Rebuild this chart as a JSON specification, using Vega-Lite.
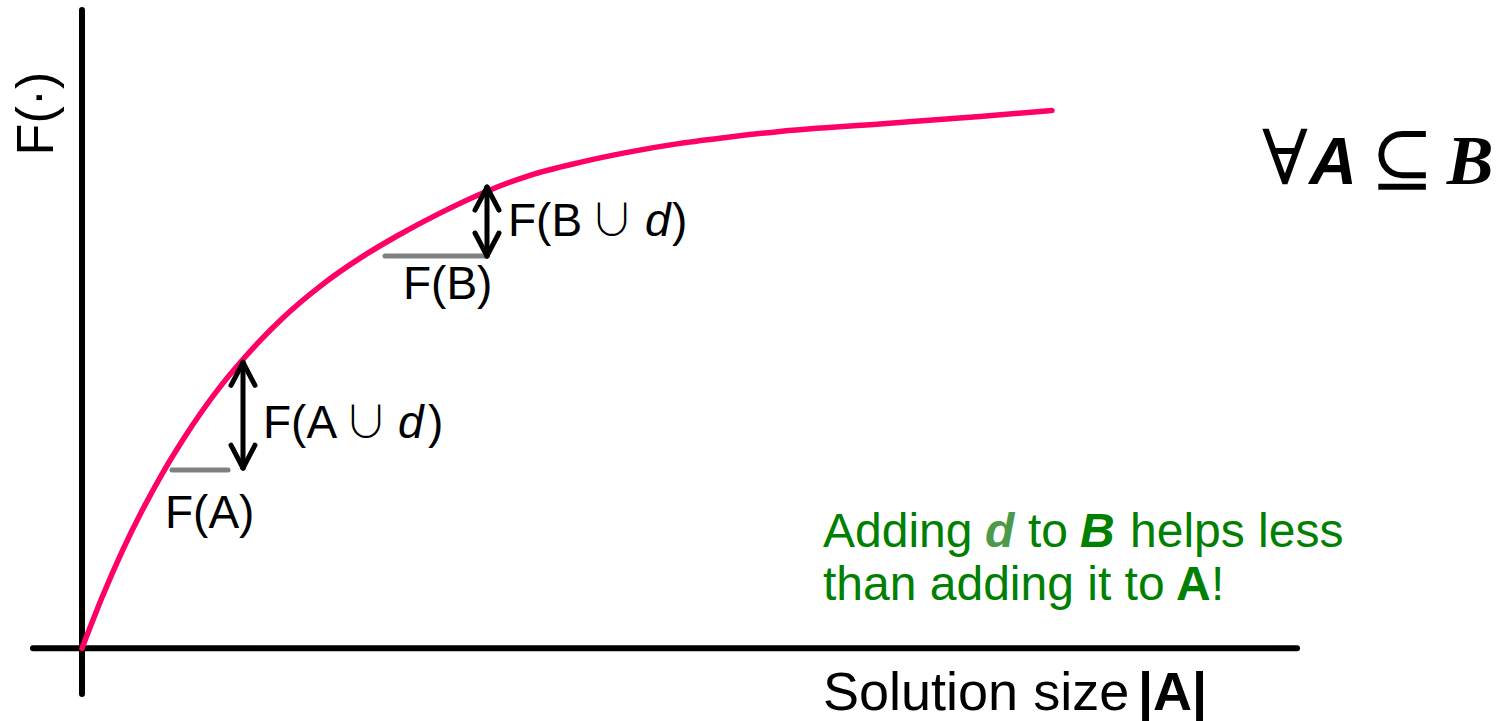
{
  "$schema": "https://vega.github.io/schema/vega-lite/v6.json",
  "width": 1506,
  "height": 721,
  "autosize": {"type": "fit", "contains": "padding"},
  "padding": 0,
  "background": "white",
  "config": {"view": {"stroke": null}},
  "datasets": {
    "curve": [
      {"size": 0, "f": 0},
      {"size": 0.20, "f": 0.51},
      {"size": 0.40, "f": 0.97},
      {"size": 0.60, "f": 1.38},
      {"size": 0.80, "f": 1.75},
      {"size": 1.00, "f": 2.08},
      {"size": 1.20, "f": 2.38},
      {"size": 1.40, "f": 2.65},
      {"size": 1.60, "f": 2.89},
      {"size": 1.80, "f": 3.11},
      {"size": 2.00, "f": 3.31},
      {"size": 2.40, "f": 3.65},
      {"size": 2.80, "f": 3.93},
      {"size": 3.15, "f": 4.14},
      {"size": 3.58, "f": 4.37},
      {"size": 4.05, "f": 4.59},
      {"size": 4.48, "f": 4.75},
      {"size": 4.98, "f": 4.88},
      {"size": 5.48, "f": 4.985},
      {"size": 5.98, "f": 5.07},
      {"size": 6.48, "f": 5.135},
      {"size": 6.98, "f": 5.19},
      {"size": 7.98, "f": 5.265},
      {"size": 8.98, "f": 5.34},
      {"size": 9.70, "f": 5.40}
    ],
    "segments": [
      {"kind": "axis", "x": 0, "y": 6.41, "x2": 0, "y2": -0.46},
      {"kind": "axis", "x": -0.49, "y": 0, "x2": 12.15, "y2": 0},
      {"kind": "bar", "x": 0.90, "y": 1.79, "x2": 1.46, "y2": 1.79},
      {"kind": "bar", "x": 3.03, "y": 3.94, "x2": 4.05, "y2": 3.94},
      {"kind": "arrow", "x": 1.61, "y": 2.87, "x2": 1.61, "y2": 1.81},
      {"kind": "arrow", "x": 1.61, "y": 2.87, "x2": 1.49, "y2": 2.64},
      {"kind": "arrow", "x": 1.61, "y": 2.87, "x2": 1.73, "y2": 2.64},
      {"kind": "arrow", "x": 1.61, "y": 1.81, "x2": 1.49, "y2": 2.04},
      {"kind": "arrow", "x": 1.61, "y": 1.81, "x2": 1.73, "y2": 2.04},
      {"kind": "arrow", "x": 4.05, "y": 4.63, "x2": 4.05, "y2": 3.94},
      {"kind": "arrow", "x": 4.05, "y": 4.63, "x2": 3.93, "y2": 4.40},
      {"kind": "arrow", "x": 4.05, "y": 4.63, "x2": 4.17, "y2": 4.40},
      {"kind": "arrow", "x": 4.05, "y": 3.94, "x2": 3.93, "y2": 4.17},
      {"kind": "arrow", "x": 4.05, "y": 3.94, "x2": 4.17, "y2": 4.17}
    ],
    "labels": [
      {"style": "reg", "x": 1.81, "y": 2.11, "text": "F(A"},
      {"style": "cup", "x": 2.84, "y": 2.11, "text": "∪"},
      {"style": "ital", "x": 3.16, "y": 2.11, "text": "d"},
      {"style": "reg", "x": 3.46, "y": 2.11, "text": ")"},
      {"style": "reg", "x": 4.26, "y": 4.14, "text": "F(B"},
      {"style": "cup", "x": 5.30, "y": 4.14, "text": "∪"},
      {"style": "ital", "x": 5.63, "y": 4.14, "text": "d"},
      {"style": "reg", "x": 5.90, "y": 4.14, "text": ")"},
      {"style": "reg", "x": 0.83, "y": 1.21, "text": "F(A)"},
      {"style": "reg", "x": 3.21, "y": 3.51, "text": "F(B)"},
      {"style": "axisreg", "x": 7.41, "y": -0.62, "text": "Solution size"},
      {"style": "axisbold", "x": 10.56, "y": -0.62, "text": "|A|"},
      {"style": "rot", "x": -0.29, "y": 5.37, "text": "F(·)"},
      {"style": "serif", "x": 12.03, "y": 4.66, "text": "∀"},
      {"style": "bisans", "x": 12.51, "y": 4.66, "text": "A"},
      {"style": "serif", "x": 13.20, "y": 4.66, "text": "⊆"},
      {"style": "biserif", "x": 13.88, "y": 4.66, "text": "B"},
      {"style": "green", "x": 7.41, "y": 1.02, "text": "Adding"},
      {"style": "greend", "x": 9.03, "y": 1.02, "text": "d"},
      {"style": "green", "x": 9.46, "y": 1.02, "text": "to"},
      {"style": "greenbi", "x": 9.98, "y": 1.02, "text": "B"},
      {"style": "green", "x": 10.48, "y": 1.02, "text": "helps less"},
      {"style": "green", "x": 7.41, "y": 0.48, "text": "than adding it to"},
      {"style": "greenb", "x": 10.94, "y": 0.48, "text": "A"},
      {"style": "green", "x": 11.29, "y": 0.48, "text": "!"}
    ]
  },
  "encoding": {
    "x": {"field": "x", "type": "quantitative", "axis": null, "scale": {"domain": [-0.82, 14.24], "nice": false, "zero": false}},
    "y": {"field": "y", "type": "quantitative", "axis": null, "scale": {"domain": [-0.70, 6.51], "nice": false, "zero": false}}
  },
  "layer": [
    {
      "data": {"name": "segments"},
      "transform": [{"filter": "datum.kind === 'axis'"}],
      "mark": {"type": "rule", "color": "#000000", "strokeWidth": 6, "strokeCap": "round"},
      "encoding": {"x2": {"field": "x2"}, "y2": {"field": "y2"}}
    },
    {
      "data": {"name": "segments"},
      "transform": [{"filter": "datum.kind === 'bar'"}],
      "mark": {"type": "rule", "color": "#808080", "strokeWidth": 5, "strokeCap": "round"},
      "encoding": {"x2": {"field": "x2"}, "y2": {"field": "y2"}}
    },
    {
      "data": {"name": "curve"},
      "mark": {"type": "line", "color": "#ff0066", "strokeWidth": 5.5, "strokeCap": "round", "interpolate": "monotone"},
      "encoding": {
        "x": {"field": "size", "type": "quantitative"},
        "y": {"field": "f", "type": "quantitative"}
      }
    },
    {
      "data": {"name": "segments"},
      "transform": [{"filter": "datum.kind === 'arrow'"}],
      "mark": {"type": "rule", "color": "#000000", "strokeWidth": 5, "strokeCap": "round"},
      "encoding": {"x2": {"field": "x2"}, "y2": {"field": "y2"}}
    },
    {
      "data": {"name": "labels"},
      "transform": [{"filter": "datum.style === 'reg'"}],
      "mark": {"type": "text", "font": "Liberation Sans", "fontSize": 46, "color": "#000000", "align": "left", "baseline": "alphabetic"},
      "encoding": {"text": {"field": "text"}}
    },
    {
      "data": {"name": "labels"},
      "transform": [{"filter": "datum.style === 'ital'"}],
      "mark": {"type": "text", "font": "Liberation Sans", "fontSize": 46, "fontStyle": "italic", "color": "#000000", "align": "left", "baseline": "alphabetic"},
      "encoding": {"text": {"field": "text"}}
    },
    {
      "data": {"name": "labels"},
      "transform": [{"filter": "datum.style === 'cup'"}],
      "mark": {"type": "text", "font": "Noto Sans CJK JP", "fontSize": 44, "fontWeight": 300, "color": "#000000", "align": "center", "baseline": "alphabetic"},
      "encoding": {"text": {"field": "text"}}
    },
    {
      "data": {"name": "labels"},
      "transform": [{"filter": "datum.style === 'axisreg'"}],
      "mark": {"type": "text", "font": "Liberation Sans", "fontSize": 54, "color": "#000000", "align": "left", "baseline": "alphabetic"},
      "encoding": {"text": {"field": "text"}}
    },
    {
      "data": {"name": "labels"},
      "transform": [{"filter": "datum.style === 'axisbold'"}],
      "mark": {"type": "text", "font": "Liberation Sans", "fontSize": 54, "fontWeight": "bold", "color": "#000000", "align": "left", "baseline": "alphabetic"},
      "encoding": {"text": {"field": "text"}}
    },
    {
      "data": {"name": "labels"},
      "transform": [{"filter": "datum.style === 'rot'"}],
      "mark": {"type": "text", "font": "Liberation Sans", "fontSize": 52, "color": "#000000", "align": "center", "baseline": "alphabetic", "angle": 270},
      "encoding": {"text": {"field": "text"}}
    },
    {
      "data": {"name": "labels"},
      "transform": [{"filter": "datum.style === 'serif'"}],
      "mark": {"type": "text", "font": "DejaVu Serif", "fontSize": 76, "color": "#000000", "align": "center", "baseline": "alphabetic"},
      "encoding": {"text": {"field": "text"}}
    },
    {
      "data": {"name": "labels"},
      "transform": [{"filter": "datum.style === 'bisans'"}],
      "mark": {"type": "text", "font": "Liberation Sans", "fontSize": 66, "fontWeight": "bold", "fontStyle": "italic", "color": "#000000", "align": "center", "baseline": "alphabetic"},
      "encoding": {"text": {"field": "text"}}
    },
    {
      "data": {"name": "labels"},
      "transform": [{"filter": "datum.style === 'biserif'"}],
      "mark": {"type": "text", "font": "Liberation Serif", "fontSize": 70, "fontWeight": "bold", "fontStyle": "italic", "color": "#000000", "align": "center", "baseline": "alphabetic"},
      "encoding": {"text": {"field": "text"}}
    },
    {
      "data": {"name": "labels"},
      "transform": [{"filter": "datum.style === 'green'"}],
      "mark": {"type": "text", "font": "Liberation Sans", "fontSize": 48, "color": "#008000", "align": "left", "baseline": "alphabetic"},
      "encoding": {"text": {"field": "text"}}
    },
    {
      "data": {"name": "labels"},
      "transform": [{"filter": "datum.style === 'greenb'"}],
      "mark": {"type": "text", "font": "Liberation Sans", "fontSize": 48, "fontWeight": "bold", "color": "#008000", "align": "left", "baseline": "alphabetic"},
      "encoding": {"text": {"field": "text"}}
    },
    {
      "data": {"name": "labels"},
      "transform": [{"filter": "datum.style === 'greenbi'"}],
      "mark": {"type": "text", "font": "Liberation Sans", "fontSize": 48, "fontWeight": "bold", "fontStyle": "italic", "color": "#008000", "align": "left", "baseline": "alphabetic"},
      "encoding": {"text": {"field": "text"}}
    },
    {
      "data": {"name": "labels"},
      "transform": [{"filter": "datum.style === 'greend'"}],
      "mark": {"type": "text", "font": "Liberation Sans", "fontSize": 48, "fontWeight": "bold", "fontStyle": "italic", "color": "#4a9a4a", "align": "left", "baseline": "alphabetic"},
      "encoding": {"text": {"field": "text"}}
    }
  ]
}
